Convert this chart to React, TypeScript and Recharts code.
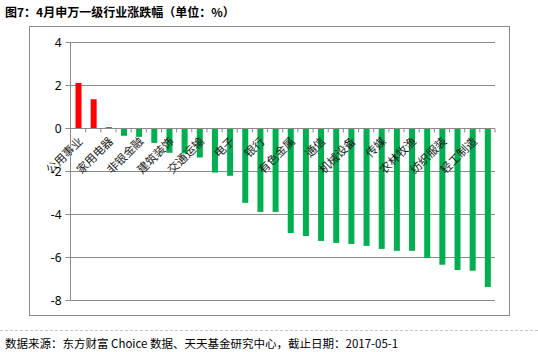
import { BarChart, Bar, Cell, XAxis, YAxis, CartesianGrid, ReferenceLine } from 'recharts';

// 申万一级行业, 2017年4月涨跌幅 (%)
const industries = [
  '公用事业', '食品饮料', '家用电器', '钢铁', '非银金融', '建筑材料', '建筑装饰',
  '汽车', '交通运输', '医药生物', '电子', '房地产', '银行', '化工',
  '有色金属', '采掘', '通信', '电气设备', '机械设备', '商业贸易', '传媒',
  '休闲服务', '农林牧渔', '国防军工', '纺织服装', '计算机', '轻工制造', '综合',
];
const changes = [
  2.12, 1.36, 0.06, -0.34, -0.39, -0.67, -1.13,
  -1.16, -1.35, -2.05, -2.2, -3.46, -3.88, -3.88,
  -4.86, -5.0, -5.23, -5.32, -5.37, -5.46, -5.6,
  -5.69, -5.69, -6.02, -6.34, -6.58, -6.62, -7.37,
];
const yTicks = [-8, -6, -4, -2, 0, 2, 4];

const chartData = industries.map((name, i) => ({ name, value: changes[i] }));

const GRID = '#8a8a8a';
const UP = '#ff0000';
const DOWN = '#00b050';
const CJK = "'Noto Sans CJK SC', 'Noto Sans', sans-serif";

// Excel draws the category axis on the zero line, with labels hanging below it
const ZeroAxis = (props: any) => {
  const { x1, x2, y1 } = props;
  const n = industries.length;
  const step = (x2 - x1) / n;
  return (
    <g>
      <line x1={x1} y1={y1} x2={x2} y2={y1} stroke={GRID} strokeWidth={1} />
      {Array.from({ length: n + 1 }, (_, i) => (
        <line key={'t' + i} x1={x1 + i * step} y1={y1} x2={x1 + i * step} y2={y1 + 4} stroke={GRID} />
      ))}
      {industries.map((name, i) => {
        if (i % 2 !== 0) return null;
        const cx = x1 + (i + 0.5) * step + 2;
        const cy = y1 + 10;
        return (
          <text
            key={'l' + i}
            x={cx}
            y={cy}
            transform={`rotate(-45 ${cx} ${cy})`}
            textAnchor="end"
            dominantBaseline="central"
            fontSize={11.5}
            fontFamily={CJK}
            fill="#1a1a1a"
          >
            {name}
          </text>
        );
      })}
    </g>
  );
};

export default function App() {
  return (
    <div style={{ position: 'absolute', left: 0, top: 0, width: 538, height: 352, background: '#fff' }}>
      <div
        style={{
          position: 'absolute',
          left: 5,
          top: 4,
          fontFamily: CJK,
          fontSize: 12,
          fontWeight: 700,
          lineHeight: '16px',
          color: '#000',
          whiteSpace: 'nowrap',
        }}
      >
        图7：4月申万一级行业涨跌幅（单位：%）
      </div>

      <div
        style={{
          position: 'absolute',
          left: 29,
          top: 26,
          width: 479,
          height: 288,
          border: `1px solid ${GRID}`,
        }}
      >
        <BarChart
          width={479}
          height={288}
          data={chartData}
          margin={{ top: 15.5, right: 14, bottom: 14.5, left: 0.5 }}
          barSize={6}
        >
          <CartesianGrid vertical={false} stroke={GRID} strokeWidth={1} />
          <XAxis dataKey="name" hide />
          <YAxis
            domain={[-8, 4]}
            ticks={yTicks}
            width={40}
            interval={0}
            stroke={GRID}
            tickSize={5}
            tickMargin={4}
            tick={{ fill: '#000', fontSize: 12, fontFamily: "'Noto Sans', sans-serif" }}
          />
          <Bar dataKey="value" isAnimationActive={false}>
            {chartData.map((d, i) => (
              <Cell key={i} fill={d.value >= 0 ? UP : DOWN} />
            ))}
          </Bar>
          <ReferenceLine y={0} shape={ZeroAxis} />
        </BarChart>
      </div>

      <div
        style={{
          position: 'absolute',
          left: 0,
          top: 330,
          width: 538,
          borderTop: '1px dashed #c8c8c8',
        }}
      />
      <div
        style={{
          position: 'absolute',
          left: 5,
          top: 335,
          fontFamily: CJK,
          fontSize: 11.5,
          lineHeight: '16px',
          color: '#000',
          whiteSpace: 'nowrap',
        }}
      >
        数据来源：东方财富 Choice 数据、天天基金研究中心，截止日期：2017-05-1
      </div>
    </div>
  );
}
